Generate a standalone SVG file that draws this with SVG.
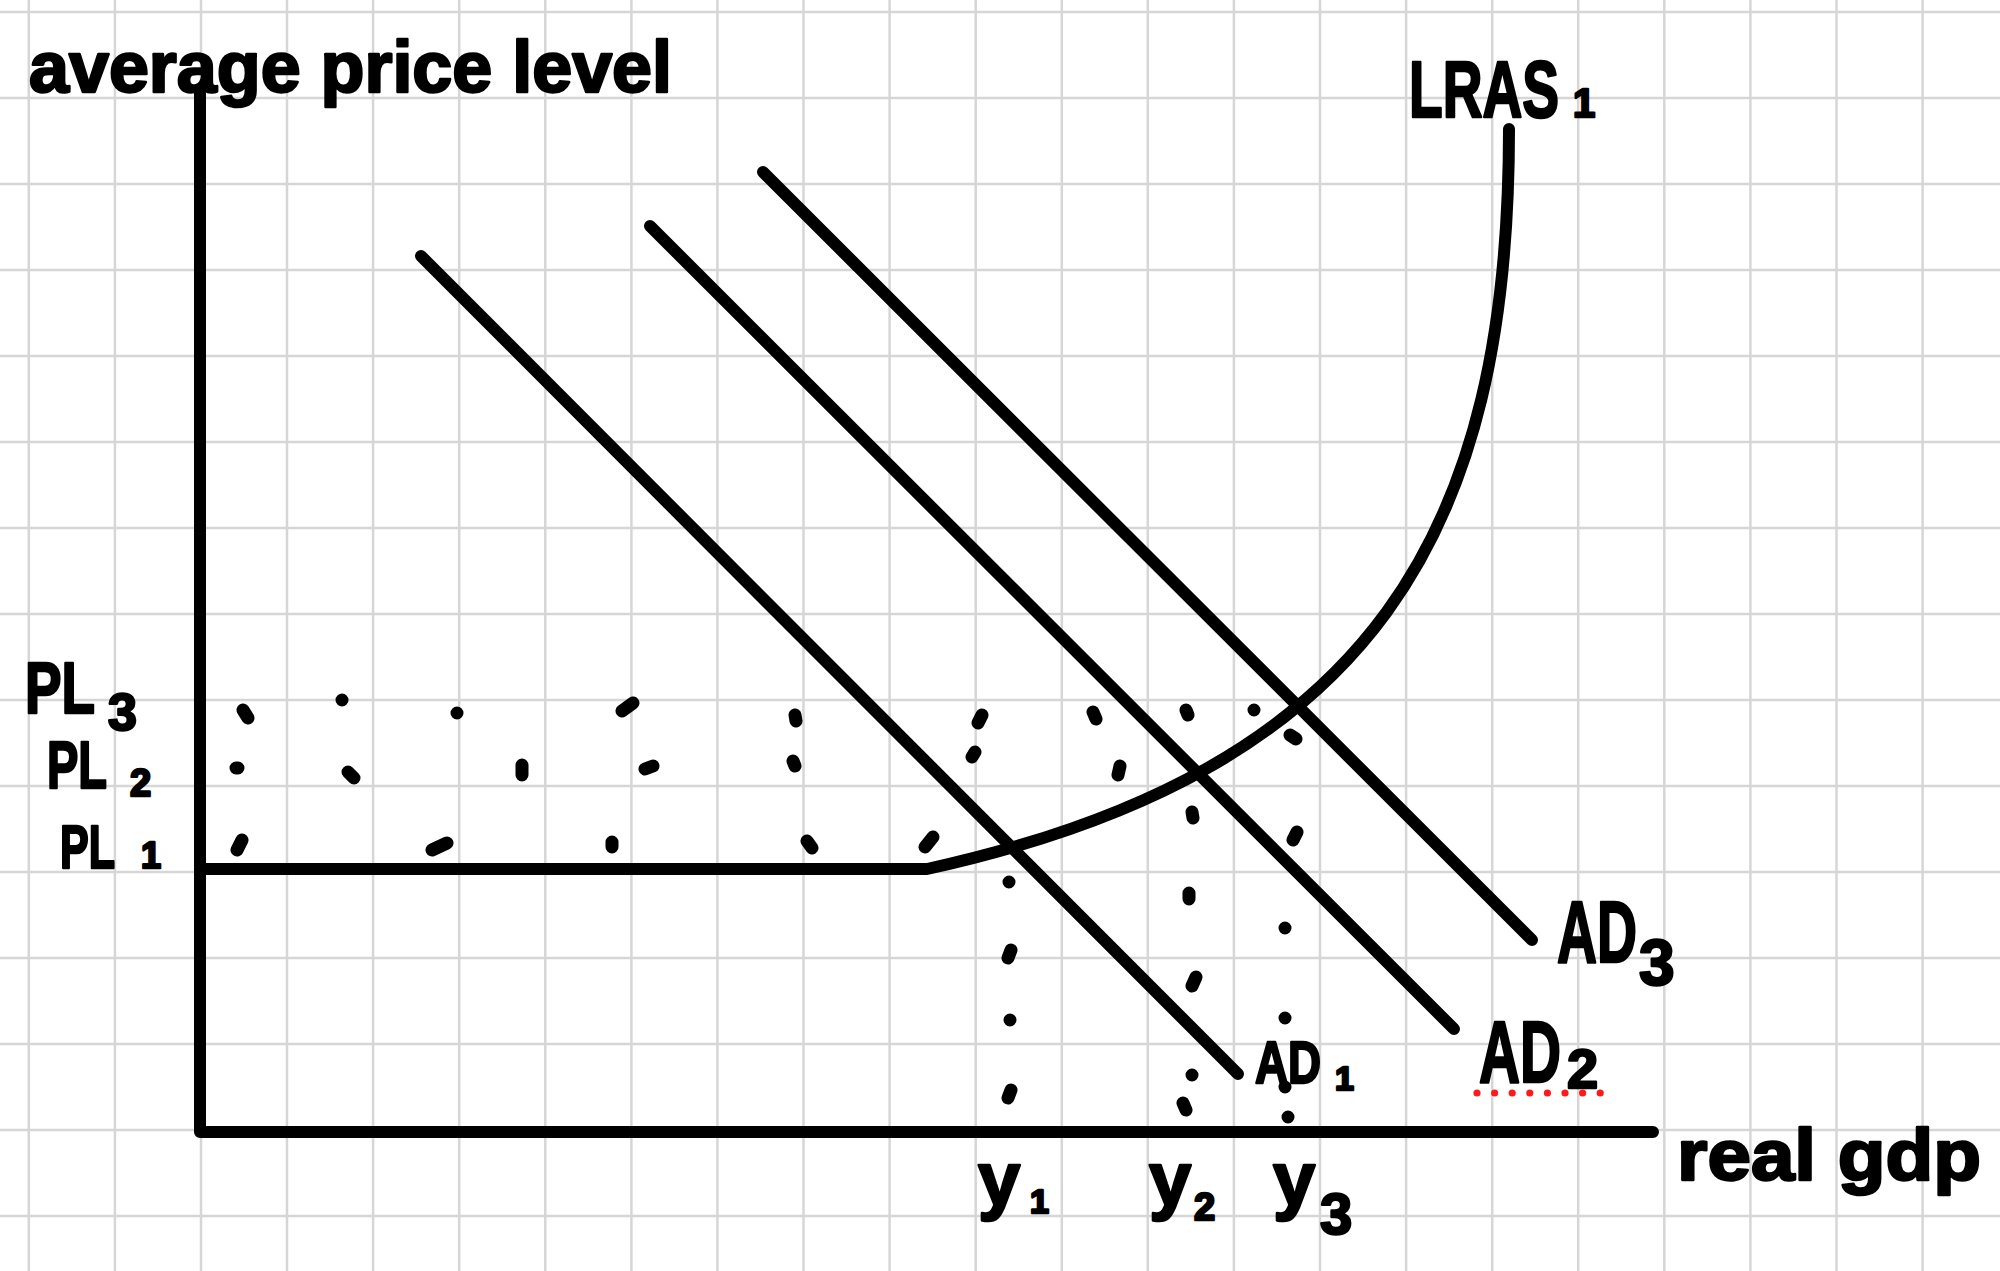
<svg xmlns="http://www.w3.org/2000/svg" width="2000" height="1271" viewBox="0 0 2000 1271">
<style>
.grid{stroke:#d6d6d6;stroke-width:2.5;fill:none}
.ln{stroke:#000;stroke-width:12;fill:none;stroke-linecap:round;stroke-linejoin:round}
.dot{stroke:#000;stroke-width:13;fill:none;stroke-linecap:round}
.t{font-family:"Liberation Sans",Arial,sans-serif;font-weight:bold;fill:#000;stroke:#000;stroke-width:2.5;stroke-linejoin:round}
.red{fill:#ff1a1a}
</style>
<rect width="2000" height="1271" fill="#fff"/>
<g id="grid">
<path class="grid" d="M28.8 0V1271M114.9 0V1271M201 0V1271M287 0V1271M373.1 0V1271M459.2 0V1271M545.3 0V1271M631.4 0V1271M717.4 0V1271M803.5 0V1271M889.6 0V1271M975.7 0V1271M1061.8 0V1271M1147.8 0V1271M1233.9 0V1271M1320 0V1271M1406.1 0V1271M1492.2 0V1271M1578.2 0V1271M1664.3 0V1271M1750.4 0V1271M1836.5 0V1271M1922.6 0V1271"/>
<path class="grid" d="M0 12H2000M0 98H2000M0 184H2000M0 270H2000M0 356H2000M0 442H2000M0 528H2000M0 614H2000M0 700H2000M0 786H2000M0 872H2000M0 958H2000M0 1044H2000M0 1130H2000M0 1216H2000"/>
</g>
<g id="axes">
<path class="ln" d="M200 93V1132H1653"/>
</g>
<g id="lras">
<path class="ln" d="M200 869H927C1377 770 1509 529 1509 129"/>
</g>
<g id="ad-curves">
<path id="ad1" class="ln" d="M421 256L1238 1074"/>
<path id="ad2" class="ln" d="M650 226L1454 1029"/>
<path id="ad3" class="ln" d="M763 172L1532 940"/>
</g>
<g id="dots">
<path class="dot" d="M243 710L248 718M342 700l0.01 0M457 713l0.01 0M622 711L633 703M795 715L796 721M978 723L982 715M1093 712L1096 719M1186 710L1188 715M1254 710l0.01 0"/>
<path class="dot" d="M236 768l2 0M348 772L354 778M522 765L522 775M645 769L653 766M793 761L795 766M972 757L975 752M1120 766L1118 775"/>
<path class="dot" d="M242 840L237 850M432 850L447 843M612 842L612 847M807 841L812 848M925 847L933 837"/>
<path class="dot" d="M1009 882l0.01 0M1011 950L1008 958M1010 1020l0.01 0M1011 1090L1008 1098"/>
<path class="dot" d="M1192 812L1193 818M1189 893L1189 899M1196 977L1192 986M1192 1075l0.01 0M1183 1103L1186 1110"/>
<path class="dot" d="M1290 735L1296 739M1297 832L1293 840M1285 928l0.01 0M1285 1018l0.01 0M1285 1087l0.01 0M1288 1117l0.01 0"/>
</g>
<g id="labels">
<text id="y-axis-label" class="t" x="29" y="92" font-size="72" textLength="643" lengthAdjust="spacingAndGlyphs">average price level</text>
<g id="lras-label">
<text class="t" font-size="80" transform="translate(1409 117) scale(0.689 1)">LRAS</text>
<text class="t" x="1573" y="117" font-size="40">1</text>
</g>
<g id="pl3">
<text class="t" font-size="72" transform="translate(25 713) scale(0.761 1)">PL</text>
<text class="t" x="108" y="730" font-size="52">3</text>
</g>
<g id="pl2">
<text class="t" font-size="66" transform="translate(47 788) scale(0.712 1)">PL</text>
<text class="t" x="130" y="796" font-size="38">2</text>
</g>
<g id="pl1">
<text class="t" font-size="62" transform="translate(60 868) scale(0.694 1)">PL</text>
<text class="t" x="141" y="868" font-size="36">1</text>
</g>
<g id="y1">
<text class="t" x="978" y="1205" font-size="76">y</text>
<text class="t" x="1030" y="1213" font-size="34">1</text>
</g>
<g id="y2">
<text class="t" x="1149" y="1205" font-size="76">y</text>
<text class="t" x="1194" y="1220" font-size="38">2</text>
</g>
<g id="y3">
<text class="t" x="1273" y="1205" font-size="76">y</text>
<text class="t" x="1320" y="1234" font-size="58">3</text>
</g>
<g id="ad1-label">
<text class="t" font-size="60" transform="translate(1255 1083) scale(0.762 1)">AD</text>
<text class="t" x="1335" y="1090" font-size="34">1</text>
</g>
<g id="ad2-label">
<text class="t" font-size="88" transform="translate(1479 1082) scale(0.646 1)">AD</text>
<text class="t" x="1567" y="1088" font-size="56">2</text>
</g>
<g id="ad3-label">
<text class="t" font-size="88" transform="translate(1557 962) scale(0.63 1)">AD</text>
<text class="t" x="1639" y="985" font-size="64">3</text>
</g>
<text id="x-axis-label" class="t" x="1677" y="1180" font-size="72" textLength="304" lengthAdjust="spacingAndGlyphs">real gdp</text>
</g>
<g id="spellcheck">
<circle class="red" cx="1477" cy="1093" r="3.6"/><circle class="red" cx="1494.6" cy="1093" r="3.6"/><circle class="red" cx="1512.2" cy="1093" r="3.6"/><circle class="red" cx="1529.8" cy="1093" r="3.6"/><circle class="red" cx="1547.4" cy="1093" r="3.6"/><circle class="red" cx="1565" cy="1093" r="3.6"/><circle class="red" cx="1582.6" cy="1093" r="3.6"/><circle class="red" cx="1600.2" cy="1093" r="3.6"/>
</g>
</svg>
